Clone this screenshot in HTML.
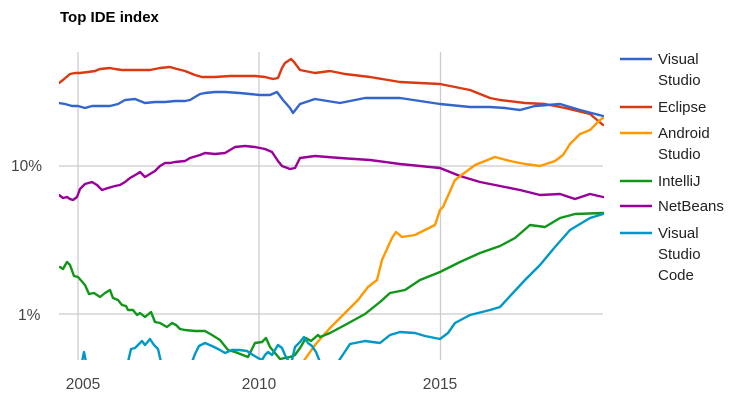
<!DOCTYPE html>
<html><head><meta charset="utf-8">
<style>
html,body{margin:0;padding:0;background:#fff;}
svg{display:block;font-family:"Liberation Sans",Arial,sans-serif;}
</style></head><body>
<svg width="738" height="400" viewBox="0 0 738 400" xmlns="http://www.w3.org/2000/svg">
<rect width="738" height="400" fill="#fff"/>
<text x="60" y="22" font-size="15" font-weight="bold" fill="#000">Top IDE index</text>
<g stroke="#cccccc" stroke-width="1.3">
<line x1="78" y1="52" x2="78" y2="360"/>
<line x1="259" y1="52" x2="259" y2="360"/>
<line x1="440.5" y1="52" x2="440.5" y2="360"/>
<line x1="59" y1="166" x2="603" y2="166"/>
<line x1="59" y1="314" x2="603" y2="314"/>
</g>
<g font-size="15.5" fill="#444">
<text x="11" y="171">10%</text>
<text x="18" y="320">1%</text>
<text x="83" y="389" text-anchor="middle">2005</text>
<text x="259" y="389" text-anchor="middle">2010</text>
<text x="440" y="389" text-anchor="middle">2015</text>
</g>
<defs><clipPath id="c"><rect x="59" y="40" width="545" height="320"/></clipPath></defs>
<g fill="none" stroke-width="2.4" stroke-linejoin="round" stroke-linecap="round" clip-path="url(#c)">
<polyline stroke="#dc3912" points="59,83 63,80 70,74 75,73 80,73 88,72 95,71 100,69 110,68 115,69 122,70 130,70 140,70 150,70 160,68 170,67 177,69 185,71 195,75 202,77 215,77 230,76 245,76 255,76 265,77 273,79 278,78 282,68 285,63 291,59 294,62 300,70 315,73 330,71 345,74 370,77 400,82 440,84 470,90 490,98 500,100 525,103 545,104 565,108 590,114 603,125"/>
<polyline stroke="#3366cc" points="59,103 65,104 72,106 78,106 85,108 92,106 100,106 110,106 118,104 125,100 135,99 140,101 145,103 155,102 165,102 175,101 185,101 190,100 195,97 200,94 205,93 215,92 225,92 240,93 250,94 260,95 270,95 277,92 283,100 290,108 293,113 300,104 315,99 340,103 365,98 400,98 440,104 470,107 490,107 505,108 520,110 535,106 560,104 580,110 603,116"/>
<polyline stroke="#990099" points="59,195 63,198 67,197 70,199 73,200 77,197 80,189 85,184 92,182 97,185 102,190 108,188 115,186 120,185 125,182 130,178 137,174 140,172 145,177 150,174 155,171 160,166 165,163 170,163 175,162 185,161 190,158 200,155 205,153 215,154 225,153 230,150 235,147 245,146 255,147 265,149 272,152 278,161 282,166 290,169 295,168 300,158 315,156 340,158 370,160 400,164 440,168 460,176 480,182 500,186 520,190 540,195 560,194 575,199 590,194 603,197"/>
<polyline stroke="#ff9900" points="303,362 315,345 330,328 345,313 358,300 368,287 377,280 382,260 392,238 396,232 402,237 415,235 425,230 435,225 440,210 443,207 455,180 475,165 495,157 510,161 525,164 540,166 555,161 563,155 570,144 580,134 590,130 600,120 603,118"/>
<polyline stroke="#109618" points="60,267 63,269 67,262 70,265 74,276 78,277 85,285 89,294 94,293 100,297 105,293 110,290 113,298 118,300 122,305 126,306 128,310 133,310 137,315 140,313 145,317 151,312 155,322 160,323 167,327 172,323 176,325 180,329 185,330 195,331 205,331 212,335 220,340 228,350 235,352 248,357 255,343 262,342 266,338 270,347 280,359 290,357 295,355 300,348 306,338 311,341 318,335 320,337 330,333 345,325 365,314 380,302 390,293 405,290 420,280 440,272 460,262 480,253 500,246 515,238 530,225 545,227 560,218 575,214 603,213"/>
<polyline stroke="#0099c6" points="82,362 84,352 86,362"/>
<polyline stroke="#0099c6" points="128,362 131,349 135,348 138,345 142,341 145,345 150,339 154,345 158,349 161,362"/>
<polyline stroke="#0099c6" points="192,362 195,354 199,346 205,343 212,346 220,350 225,353 232,350 240,350 247,351 253,355 258,358 262,360 265,355 268,352 272,355 275,350 278,345 282,348 285,355 289,362"/>
<polyline stroke="#0099c6" points="292,360 295,347 300,342 304,337 308,343 312,346 316,352 320,362"/>
<polyline stroke="#0099c6" points="338,362 350,344 365,341 380,343 390,335 400,332 415,333 425,336 440,339 448,333 455,323 470,315 490,310 500,307 512,294 525,280 540,265 555,247 570,230 590,218 603,214"/>
</g>
<g stroke-width="2.5">
<line x1="620" y1="59" x2="652" y2="59" stroke="#3366cc"/>
<line x1="620" y1="107" x2="652" y2="107" stroke="#dc3912"/>
<line x1="620" y1="133" x2="652" y2="133" stroke="#ff9900"/>
<line x1="620" y1="181" x2="652" y2="181" stroke="#109618"/>
<line x1="620" y1="206" x2="652" y2="206" stroke="#990099"/>
<line x1="620" y1="233" x2="652" y2="233" stroke="#0099c6"/>
</g>
<g font-size="15" fill="#222">
<text x="658" y="64">Visual</text>
<text x="658" y="85">Studio</text>
<text x="658" y="112">Eclipse</text>
<text x="658" y="138">Android</text>
<text x="658" y="159">Studio</text>
<text x="658" y="186">IntelliJ</text>
<text x="658" y="211">NetBeans</text>
<text x="658" y="238">Visual</text>
<text x="658" y="259">Studio</text>
<text x="658" y="280">Code</text>
</g>
</svg>
</body></html>
